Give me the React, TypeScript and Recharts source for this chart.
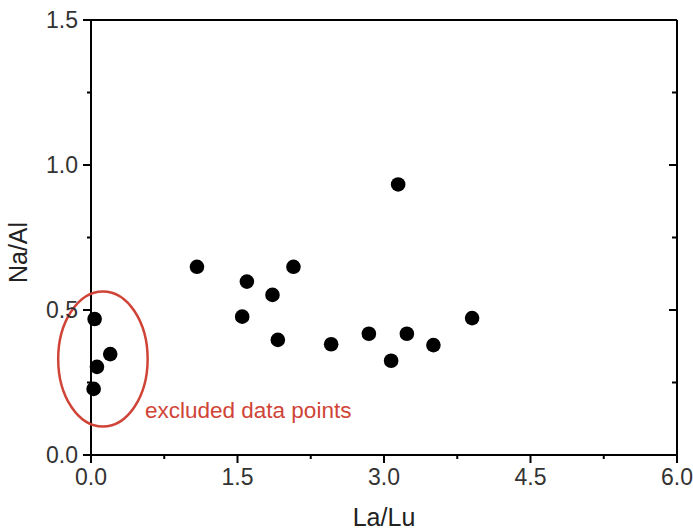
import { ReferenceDot, Scatter, ScatterChart, XAxis, YAxis } from "recharts";

// La/Lu vs Na/Al
const keptLaLu = [1.085, 1.596, 2.073, 1.858, 1.548, 1.913, 2.459, 2.845, 3.145, 3.073, 3.234, 3.506, 3.902];
const keptNaAl = [0.649, 0.598, 0.649, 0.552, 0.477, 0.397, 0.382, 0.418, 0.933, 0.325, 0.418, 0.379, 0.472];

const excludedLaLu = [0.037, 0.197, 0.061, 0.027];
const excludedNaAl = [0.469, 0.348, 0.304, 0.228];

const xTicks = [0, 0.75, 1.5, 2.25, 3, 3.75, 4.5, 5.25, 6];
const yTicks = [0, 0.25, 0.5, 0.75, 1, 1.25, 1.5];

// ellipse around the excluded points (centre + radii in data units)
const ellipseCenter = { x: 0.122, y: 0.331 };
const ellipseRadius = { x: 0.458, y: 0.233 };
const noteAt = { x: 0.553, y: 0.153 };
const noteText = "excluded data points";

const kept = keptLaLu.map((x, i) => ({ x, y: keptNaAl[i] }));
const excluded = excludedLaLu.map((x, i) => ({ x, y: excludedNaAl[i] }));

const W = 693;
const H = 531;
const margin = { top: 10, right: 6, bottom: 16, left: 21 };
const leftW = 70;
const rightW = 10;
const topH = 10;
const bottomH = 60;
const plotW = W - margin.left - margin.right - leftW - rightW;
const plotH = H - margin.top - margin.bottom - topH - bottomH;
const pxPerX = plotW / 6;
const pxPerY = plotH / 1.5;

const FONT = "'Liberation Sans', Arial, sans-serif";
const RED = "#d04437";
const TICK_COLOR = "#333";

const isMajorX = (v: number) => Math.abs(v / 1.5 - Math.round(v / 1.5)) < 1e-6;
const isMajorY = (v: number) => Math.abs(v / 0.5 - Math.round(v / 0.5)) < 1e-6;

const BottomTick = (p: any) => {
  const { x, y, payload } = p;
  const major = isMajorX(payload.value);
  return (
    <g>
      <line x1={x} x2={x} y1={y} y2={y + (major ? 8 : 4)} stroke="#000" strokeWidth={2} />
      {major ? (
        <text x={x} y={y + 30} textAnchor="middle" fontSize={23} fontFamily={FONT} fill={TICK_COLOR}>
          {payload.value.toFixed(1)}
        </text>
      ) : null}
    </g>
  );
};

const TopTick = (p: any) => {
  const { x, y, payload } = p;
  const major = isMajorX(payload.value);
  return <line x1={x} x2={x} y1={y} y2={y + (major ? 8 : 5)} stroke="#000" strokeWidth={2} />;
};

const LeftTick = (p: any) => {
  const { x, y, payload } = p;
  const major = isMajorY(payload.value);
  return (
    <g>
      <line x1={x} x2={x - (major ? 8 : 4)} y1={y} y2={y} stroke="#000" strokeWidth={2} />
      {major ? (
        <text
          x={x - 13}
          y={y}
          textAnchor="end"
          dominantBaseline="central"
          fontSize={23}
          fontFamily={FONT}
          fill={TICK_COLOR}
        >
          {payload.value.toFixed(1)}
        </text>
      ) : null}
    </g>
  );
};

const RightTick = (p: any) => {
  const { x, y, payload } = p;
  const major = isMajorY(payload.value);
  return <line x1={x} x2={x - (major ? 8 : 5)} y1={y} y2={y} stroke="#000" strokeWidth={2} />;
};

const Dot = (p: any) => <circle cx={p.cx} cy={p.cy} r={7.3} fill="#000" />;

export default function App() {
  const axisLine = { stroke: "#000", strokeWidth: 2 };
  return (
    <div style={{ position: "absolute", left: 0, top: 0, background: "#fff" }}>
      <ScatterChart width={W} height={H} margin={margin}>
        <XAxis
          xAxisId="bottom"
          dataKey="x"
          type="number"
          domain={[0, 6]}
          ticks={xTicks}
          interval={0}
          height={bottomH}
          tickSize={0}
          tickMargin={0}
          tickLine={false}
          axisLine={axisLine}
          tick={BottomTick}
          label={{
            content: (lp: any) => {
              const vb = lp.viewBox;
              return (
                <text
                  x={vb.x + vb.width / 2}
                  y={vb.y + 71}
                  textAnchor="middle"
                  fontSize={25}
                  fontFamily={FONT}
                  fill="#222"
                >
                  La/Lu
                </text>
              );
            }
          }}
        />
        <XAxis
          xAxisId="top"
          orientation="top"
          type="number"
          domain={[0, 6]}
          allowDataOverflow
          ticks={xTicks}
          interval={0}
          height={topH}
          tickSize={0}
          tickMargin={0}
          tickLine={false}
          axisLine={axisLine}
          tick={TopTick}
        />
        <YAxis
          yAxisId="left"
          dataKey="y"
          type="number"
          domain={[0, 1.5]}
          ticks={yTicks}
          interval={0}
          width={leftW}
          tickSize={0}
          tickMargin={0}
          tickLine={false}
          axisLine={axisLine}
          tick={LeftTick}
          label={{
            content: (lp: any) => {
              const vb = lp.viewBox;
              const cx = vb.x - 3;
              const cy = vb.y + vb.height / 2 + 15;
              return (
                <text
                  x={cx}
                  y={cy}
                  transform={`rotate(-90 ${cx} ${cy})`}
                  textAnchor="middle"
                  dominantBaseline="central"
                  fontSize={25}
                  fontFamily={FONT}
                  fill="#222"
                >
                  Na/Al
                </text>
              );
            }
          }}
        />
        <YAxis
          yAxisId="right"
          orientation="right"
          type="number"
          domain={[0, 1.5]}
          allowDataOverflow
          ticks={yTicks}
          interval={0}
          width={rightW}
          tickSize={0}
          tickMargin={0}
          tickLine={false}
          axisLine={axisLine}
          tick={RightTick}
        />
        <Scatter
          xAxisId="bottom"
          yAxisId="left"
          data={kept}
          shape={Dot}
          isAnimationActive={false}
        />
        <Scatter
          xAxisId="bottom"
          yAxisId="left"
          data={excluded}
          shape={Dot}
          isAnimationActive={false}
        />
        <ReferenceDot
          xAxisId="bottom"
          yAxisId="left"
          x={ellipseCenter.x}
          y={ellipseCenter.y}
          ifOverflow="visible"
          shape={(p: any) => (
            <ellipse
              cx={p.cx}
              cy={p.cy}
              rx={ellipseRadius.x * pxPerX}
              ry={ellipseRadius.y * pxPerY}
              fill="none"
              stroke={RED}
              strokeWidth={2.5}
            />
          )}
        />
        <ReferenceDot
          xAxisId="bottom"
          yAxisId="left"
          x={noteAt.x}
          y={noteAt.y}
          ifOverflow="visible"
          shape={(p: any) => (
            <text
              x={p.cx}
              y={p.cy}
              dominantBaseline="central"
              fontSize={22.5}
              fontFamily={FONT}
              fill={RED}
            >
              {noteText}
            </text>
          )}
        />
      </ScatterChart>
    </div>
  );
}
